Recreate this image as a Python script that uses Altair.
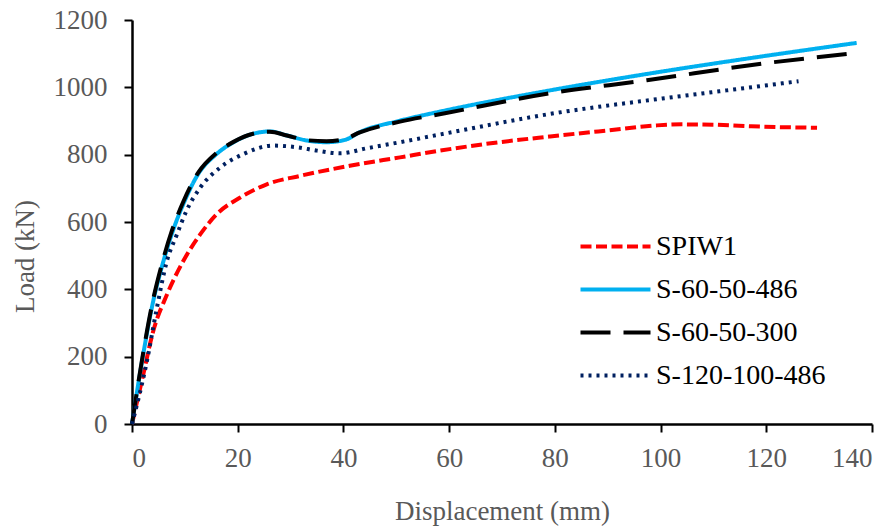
import altair as alt
import pandas as pd

series_names = ["SPIW1", "S-60-50-486", "S-60-50-300", "S-120-100-486"]
series_colors = ["#FF0000", "#00B0F0", "#000000", "#002060"]
series_dashes = [[11, 4.5], [1, 0], [30, 13], [3, 5]]

# SPIW1 (red dashed)
spiw1_x = [0, 2.1, 4.0, 6.6, 9.7, 12.9, 16.0, 20.4, 25.5, 31.8, 41.2, 50.7, 58.3, 67, 79.1, 90, 99.3, 104, 110, 116.3, 122, 129.6]
spiw1_y = [0, 145, 275, 384, 484, 563, 623, 672, 712, 737, 767, 792, 812, 832, 854, 872, 887, 890, 889, 885, 882, 880]

# S-60-50-486 (blue solid)
s486_x = [0, 2.1, 4.0, 5.6, 7.5, 9.7, 12.5, 16.0, 19.2, 22.9, 26.1, 29.3, 33.1, 36.8, 40.3, 43.1, 50.7, 58.3, 79.1, 99.9, 118.8, 137.1]
s486_y = [0, 205, 364, 464, 563, 653, 742, 802, 837, 862, 869, 857, 842, 837, 844, 867, 901, 928, 991, 1046, 1091, 1132]

# S-60-50-300 (black long dash)
s300_x = [0, 2.1, 4.0, 5.6, 7.5, 9.7, 12.5, 16.0, 19.2, 22.9, 26.1, 29.3, 33.1, 36.8, 40.3, 43.1, 50.7, 59.2, 78.5, 97.4, 119.5, 136.5]
s300_y = [0, 210, 370, 472, 572, 660, 746, 805, 838, 862, 868, 857, 843, 840, 847, 866, 898, 923, 981, 1021, 1071, 1101]

# S-120-100-486 (navy dotted)
s120_x = [0, 2.8, 4.7, 6.6, 8.5, 10.3, 12.9, 16.7, 21.1, 26.7, 31.2, 35.0, 39.4, 44.4, 50.7, 58.3, 79.1, 99.9, 112.5, 126.1]
s120_y = [0, 185, 344, 484, 563, 633, 702, 762, 802, 827, 822, 812, 804, 819, 837, 860, 921, 966, 991, 1018]

x_ticks = [0, 20, 40, 60, 80, 100, 120, 140]
y_ticks = [0, 200, 400, 600, 800, 1000, 1200]

rows = []
for name, xs, ys in zip(series_names,
                        [spiw1_x, s486_x, s300_x, s120_x],
                        [spiw1_y, s486_y, s300_y, s120_y]):
    for i, (xv, yv) in enumerate(zip(xs, ys)):
        rows.append({"series": name, "disp": xv, "load": yv, "i": i})
df = pd.DataFrame(rows)

FONT = "Liberation Serif"
GREY = "#595959"

leg = dict(
    title=None,
    orient="none",
    legendX=464,
    legendY=207,
    symbolType="M-2,0H2",
    symbolSize=1225,
    symbolStrokeWidth=4,
    labelFont=FONT,
    labelFontSize=28,
    labelColor="#000000",
    labelOffset=21,
    labelLimit=400,
    rowPadding=9,
    padding=0,
)

chart = alt.Chart(df).mark_line(interpolate="monotone", strokeWidth=4).encode(
    x=alt.X("disp:Q",
            scale=alt.Scale(domain=[0, 140], nice=False, zero=False),
            axis=alt.Axis(values=x_ticks, title="Displacement (mm)", format="d",
                          titleY=95, titleBaseline="alphabetic",
                          labelPadding=13)),
    y=alt.Y("load:Q",
            scale=alt.Scale(domain=[0, 1200], nice=False),
            axis=alt.Axis(values=y_ticks, title="Load (kN)", format="d",
                          titleX=-99, titleY=236, titleBaseline="alphabetic",
                          titleAlign="center", titleAngle=270,
                          labelPadding=17)),
    color=alt.Color("series:N",
                    scale=alt.Scale(domain=series_names, range=series_colors),
                    legend=alt.Legend(**leg)),
    strokeDash=alt.StrokeDash("series:N",
                              scale=alt.Scale(domain=series_names, range=series_dashes),
                              legend=alt.Legend(**leg)),
    order="i:Q",
).properties(
    width=740,
    height=404,
    padding={"left": 132, "top": 20, "right": 23, "bottom": 102},
    autosize="none",
).configure_view(
    stroke=None
).configure_axis(
    grid=False,
    domainColor="#000000",
    domainWidth=2.5,
    tickColor="#000000",
    tickWidth=2,
    tickSize=8,
    labelFont=FONT,
    labelFontSize=27,
    labelColor=GREY,
    titleFont=FONT,
    titleFontSize=27,
    titleColor=GREY,
    titleFontWeight="normal",
)

chart.save("out.html", embed_options={"renderer": "svg", "actions": False})
